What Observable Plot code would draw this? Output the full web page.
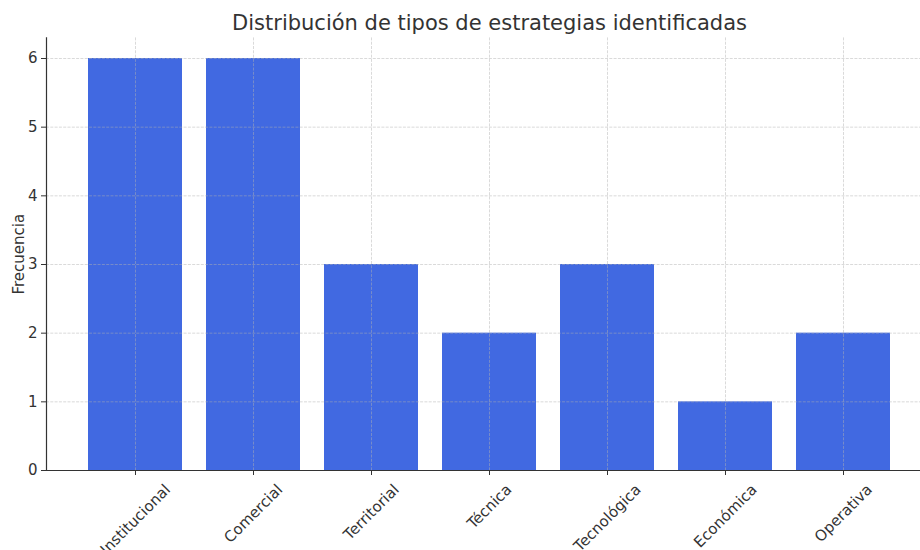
<!DOCTYPE html>
<html>
<head>
<meta charset="utf-8">
<script src="https://cdn.jsdelivr.net/npm/d3@7"></script>
<script src="https://cdn.jsdelivr.net/npm/@observablehq/plot@0.6"></script>
<style>
  html, body { margin: 0; padding: 0; background: #fff; overflow: hidden; }
  #chart { width: 920px; height: 550px; overflow: hidden; }
</style>
</head>
<body>
<div id="chart"></div>
<script>
const title = "Distribución de tipos de estrategias identificadas";
const yLabel = "Frecuencia";
const categories = ["Institucional", "Comercial", "Territorial", "Técnica", "Tecnológica", "Económica", "Operativa"];
const values = [6, 6, 3, 2, 3, 1, 2];
const yTicks = [0, 1, 2, 3, 4, 5, 6];

const data = categories.map((c, i) => ({category: c, value: values[i]}));

const textColor = "#333333";
const gridStyle = {stroke: "#b0b0b0", strokeOpacity: 0.6, strokeWidth: 0.8, strokeDasharray: "3,1.3"};

const chart = Plot.plot({
  width: 920,
  height: 550,
  marginLeft: 46,
  marginRight: -12,
  marginTop: 37.4,
  marginBottom: 80,
  style: {fontFamily: "DejaVu Sans", fontSize: "15px", color: textColor, background: "#fff", overflow: "visible"},
  x: {domain: categories, paddingInner: 0.2, paddingOuter: 0.33, label: null},
  y: {domain: [0, 6.3], label: null},
  marks: [
    Plot.barY(data, {x: "category", y: "value", fill: "#4169E1"}),
    Plot.gridX(categories, {x: d => d, ...gridStyle}),
    Plot.gridY(yTicks, {y: d => d, ...gridStyle}),
    Plot.axisY(yTicks, {y: d => d, tickSize: 5, tickPadding: 4, tickFormat: d3.format("d"), stroke: textColor, strokeWidth: 1, fontSize: 15, fill: textColor,
      label: yLabel, labelAnchor: "center", labelArrow: "none", labelOffset: 33}),
    Plot.axisX(categories, {x: d => d, tickSize: 5, stroke: textColor, strokeWidth: 1, text: null, label: null}),
    Plot.text(categories, {x: d => d, frameAnchor: "bottom", rotate: -45, textAnchor: "middle", lineAnchor: "middle", fontSize: 15, fill: textColor, className: "xlab"}),
    Plot.ruleY([0], {stroke: textColor, strokeWidth: 1.2}),
    Plot.frame({anchor: "left", stroke: textColor, strokeWidth: 1.2}),
    Plot.text([title], {frameAnchor: "top", dy: -15, fontSize: 21, fill: textColor, lineAnchor: "middle"})
  ]
});

document.getElementById("chart").appendChild(chart);

// Center rotated x tick labels the way the reference does (bbox top just below ticks)
const topPad = 10.5;
const lineH = 17.5;
d3.select(chart).selectAll(".xlab text").each(function() {
  const L = this.getComputedTextLength();
  const off = topPad + (L + lineH) * Math.SQRT1_2 / 2;
  const t = this.getAttribute("transform") || "";
  this.setAttribute("transform", `translate(0,${off}) ` + t);
});
</script>
</body>
</html>
